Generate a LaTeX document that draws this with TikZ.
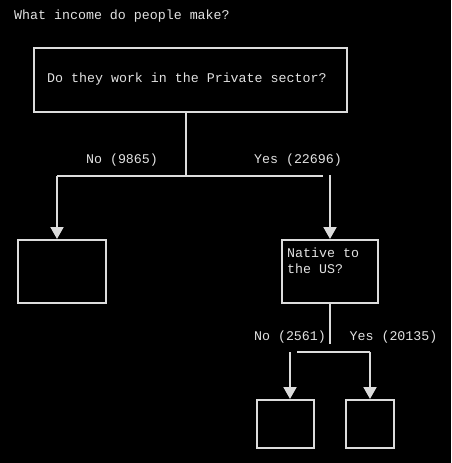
\documentclass[tikz,border=0pt]{standalone}
\usepackage{fontspec}
\setmonofont{Liberation Mono}
\usetikzlibrary{arrows.meta}
\definecolor{ink}{HTML}{DCDCDC}
\definecolor{txt}{HTML}{E2E2E2}

\begin{document}
\begin{tikzpicture}[x=1pt,y=-1pt,
  box/.style={draw=ink,line width=2pt,inner sep=0pt},
  lbl/.style={text=txt,inner sep=0pt,font=\ttfamily\fontsize{13.3}{16}\selectfont},
  wire/.style={draw=ink,line width=2pt},
  arr/.style={wire,-{Triangle[width=13pt,length=12pt]}}]
  \fill[black] (0,0) rectangle (451,463);
  \useasboundingbox (0,0) rectangle (451,463);

  % title and the questions
  \node[lbl,anchor=west] (title) at (14,16) {What income do people make?};
  \node[box,anchor=north west,minimum width=313pt,minimum height=64pt] (priv) at (33,47) {};
  \node[lbl,anchor=west] (privq) at (47,79) {Do they work in the Private sector?};
  \node[box,minimum width=88pt,minimum height=63pt] (leafA) at (62,271.5) {};
  \node[box,minimum width=96pt,minimum height=63pt] (nat) at (330,271.5) {};
  \node[lbl,anchor=north west,align=left] (natq) at (287,248) {Native to\\the US?};
  \node[box,minimum width=57pt,minimum height=48pt] (leafB) at (285.5,424) {};
  \node[box,minimum width=48pt,minimum height=48pt] (leafC) at (370,424) {};

  % branch labels
  \node[lbl] (no1) at (122,160) {No (9865)};
  \node[lbl] (yes1) at (298,160) {Yes (22696)};
  \node[lbl] (no2) at (290,337) {No (2561)};
  \node[lbl] (yes2) at (393.5,337) {Yes (20135)};

  % first split
  \coordinate (s1) at (186,176);
  \coordinate (l1) at (57,176);
  \coordinate (r1) at (323,176);
  \coordinate (d1) at (330,175);
  \draw[wire] (priv.south -| s1) -- (s1);
  \draw[wire] (l1) -- (r1);
  \draw[arr] (l1) -- (l1 |- leafA.north);
  \draw[arr] (d1) -- (nat.north);

  % second split
  \coordinate (s2) at (330,344);
  \coordinate (l2) at (297,352);
  \coordinate (r2) at (370,352);
  \coordinate (d2) at (290,352);
  \draw[wire] (nat.south) -- (s2);
  \draw[wire] (l2) -- (r2);
  \draw[arr] (d2) -- (d2 |- leafB.north);
  \draw[arr] (r2) -- (leafC.north);
\end{tikzpicture}
\end{document}
